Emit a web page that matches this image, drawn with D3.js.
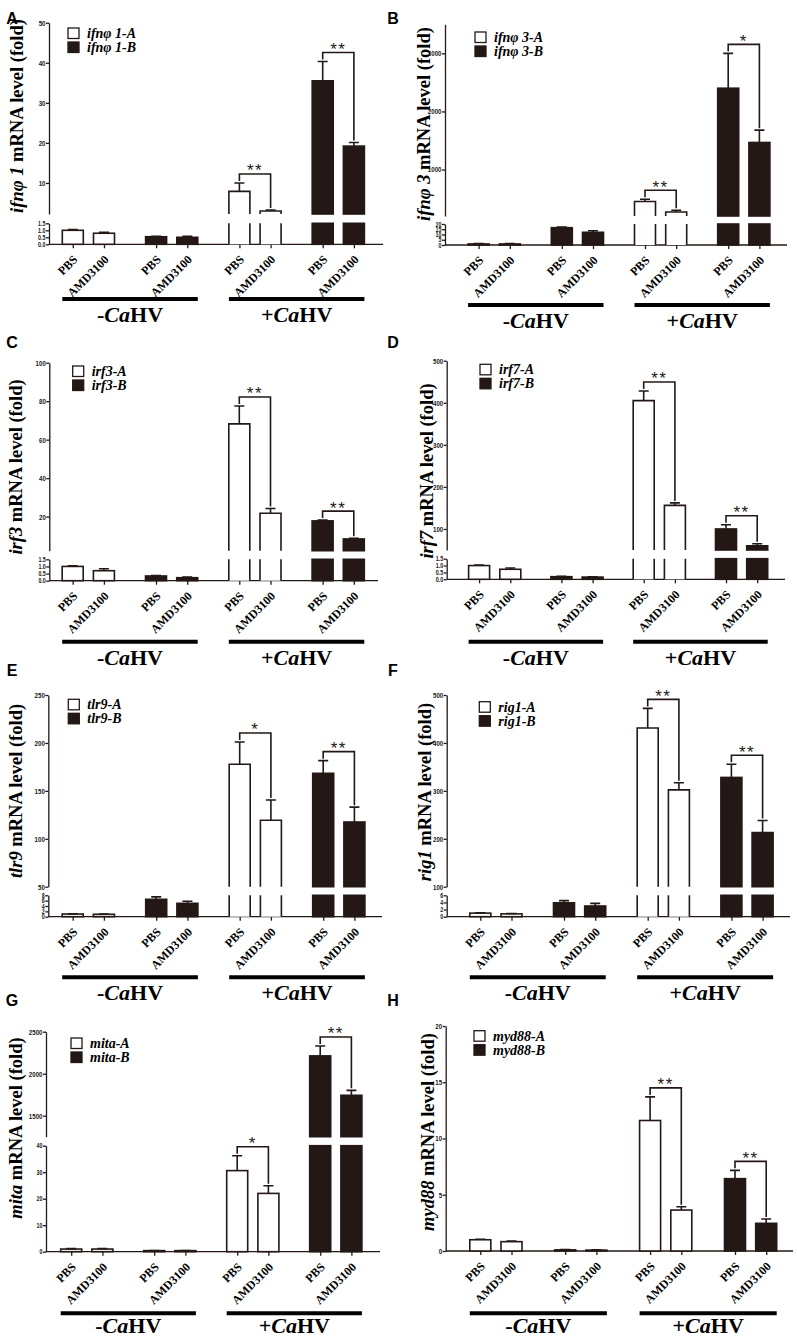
<!DOCTYPE html>
<html>
<head>
<meta charset="utf-8">
<script src="https://cdn.jsdelivr.net/npm/d3@7"></script>
<style>
  body { margin: 0; background: #fff; }
  .axis path, .axis line { stroke: #231815; stroke-width: 1.3; }
</style>
</head>
<body>
<svg width="797" height="1339"></svg>
<script>
// bar order: -CaHV gene A (PBS, AMD3100), -CaHV gene B, +CaHV gene A, +CaHV gene B
var treatments = ["PBS", "AMD3100"];
var groupKeys  = ["negA", "negB", "posA", "posB"];
var infections = ["-", "+"];

// A  ifnφ 1
var ifn1Mean = [1.0, 0.79, 0.54, 0.50, 7.9, 3.0, 35.5, 19.2];
var ifn1Err  = [0.05, 0.06, 0.03, 0.07, 2.1, 0.25, 4.8, 0.9];
var ifn1Sig  = ["**", "**"];
var ifn1Upper = [2.25, 50], ifn1UpperTicks = [10, 20, 30, 40, 50];
var ifn1LowerTicks = [0, 0.5, 1, 1.5];

// B  ifnφ 3
var ifn3Mean = [1.0, 1.0, 16.5, 12.1, 450, 269, 2400, 1466];
var ifn3Err  = [0.3, 0.5, 0.6, 1.5, 38, 29, 600, 212];
var ifn3Sig  = ["**", "*"];
var ifn3Upper = [200, 3500], ifn3UpperTicks = [1000, 2000, 3000];
var ifn3LowerTicks = [0, 5, 10, 15, 20];

// C  irf3
var irf3Mean = [1.0, 0.7, 0.33, 0.21, 68.2, 21.8, 17.8, 8.4];
var irf3Err  = [0.05, 0.14, 0.03, 0.04, 9.3, 2.4, 0.4, 0.4];
var irf3Sig  = ["**", "**"];
var irf3Upper = [2.3, 100], irf3UpperTicks = [20, 40, 60, 80, 100];
var irf3LowerTicks = [0, 0.5, 1, 1.5];

// D  irf7
var irf7Mean = [1.0, 0.73, 0.19, 0.16, 405, 156, 100, 60];
var irf7Err  = [0.03, 0.09, 0.03, 0.03, 23, 6, 10, 5];
var irf7Sig  = ["**", "**"];
var irf7Upper = [50, 500], irf7UpperTicks = [100, 200, 300, 400, 500];
var irf7LowerTicks = [0, 0.5, 1, 1.5];

// E  tlr9
var tlr9Mean = [1.0, 0.9, 6.5, 5.0, 177.7, 119.3, 168.3, 117.5];
var tlr9Err  = [0.1, 0.1, 0.9, 0.75, 23.3, 21.2, 13.2, 15.5];
var tlr9Sig  = ["*", "**"];
var tlr9Upper = [50, 250], tlr9UpperTicks = [50, 100, 150, 200, 250];
var tlr9LowerTicks = [0, 2, 4, 6, 8];

// F  rig1
var rig1Mean = [1.0, 0.8, 3.9, 3.0, 431, 302, 328, 213];
var rig1Err  = [0.1, 0.1, 0.6, 0.75, 41, 15, 27.5, 25];
var rig1Sig  = ["**", "**"];
var rig1Upper = [100, 500], rig1UpperTicks = [100, 200, 300, 400, 500];
var rig1LowerTicks = [0, 2, 4, 6];

// G  mita
var mitaMean = [1.0, 1.0, 0.4, 0.4, 30.6, 22.0, 2212, 1743];
var mitaErr  = [0.15, 0.2, 0.05, 0.05, 5.6, 2.9, 118, 59];
var mitaSig  = ["*", "**"];
var mitaUpper = [1250, 2500], mitaUpperTicks = [1500, 2000, 2500];
var mitaLowerTicks = [0, 10, 20, 30, 40];

// H  myd88 (no axis break)
var myd88Mean = [1.0, 0.83, 0.1, 0.08, 11.6, 3.64, 6.43, 2.46];
var myd88Err  = [0.05, 0.05, 0.02, 0.02, 2.1, 0.3, 0.74, 0.38];
var myd88Sig  = ["**", "**"];
var myd88Upper = [0, 20], myd88UpperTicks = [0, 5, 10, 15, 20];

var panels = [
  {letter: "A", gene: "ifnφ 1", mean: ifn1Mean, err: ifn1Err, sig: ifn1Sig, upper: ifn1Upper, upperTicks: ifn1UpperTicks, lowerTicks: ifn1LowerTicks, fmt: ".1f"},
  {letter: "B", gene: "ifnφ 3", mean: ifn3Mean, err: ifn3Err, sig: ifn3Sig, upper: ifn3Upper, upperTicks: ifn3UpperTicks, lowerTicks: ifn3LowerTicks, fmt: "d"},
  {letter: "C", gene: "irf3", mean: irf3Mean, err: irf3Err, sig: irf3Sig, upper: irf3Upper, upperTicks: irf3UpperTicks, lowerTicks: irf3LowerTicks, fmt: ".1f"},
  {letter: "D", gene: "irf7", mean: irf7Mean, err: irf7Err, sig: irf7Sig, upper: irf7Upper, upperTicks: irf7UpperTicks, lowerTicks: irf7LowerTicks, fmt: ".1f"},
  {letter: "E", gene: "tlr9", mean: tlr9Mean, err: tlr9Err, sig: tlr9Sig, upper: tlr9Upper, upperTicks: tlr9UpperTicks, lowerTicks: tlr9LowerTicks, fmt: "d"},
  {letter: "F", gene: "rig1", mean: rig1Mean, err: rig1Err, sig: rig1Sig, upper: rig1Upper, upperTicks: rig1UpperTicks, lowerTicks: rig1LowerTicks, fmt: "d"},
  {letter: "G", gene: "mita", mean: mitaMean, err: mitaErr, sig: mitaSig, upper: mitaUpper, upperTicks: mitaUpperTicks, lowerTicks: mitaLowerTicks, fmt: "d"},
  {letter: "H", gene: "myd88", mean: myd88Mean, err: myd88Err, sig: myd88Sig, upper: myd88Upper, upperTicks: myd88UpperTicks, lowerTicks: null, fmt: "d"}
];

// pixel layout of each panel
var layouts = [
  {ox: 49,    xEnd: 383, first: 39.4, step: 83.3, yTop: 22.7,   yUB: 214,    yLT: 223.3,  y0: 244.3,  bar: 299,    lab: 23, tx: 23,  ty: 116,  lx: 68,    ly: 28,    kx: 12,  ky: 24},
  {ox: 445,   xEnd: 787, first: 49.2, step: 83.2, yTop: 24.3,   yUB: 216,    yLT: 224,    y0: 245,    bar: 305,    lab: 23, tx: 430, ty: 124,  lx: 475,   ly: 32,    kx: 393, ky: 24},
  {ox: 49.3,  xEnd: 378, first: 39,   step: 83.3, yTop: 362.7,  yUB: 550.7,  yLT: 559.3,  y0: 580.7,  bar: 641.7,  lab: 23, tx: 22,  ty: 467,  lx: 72.7,  ly: 366,   kx: 12,  ky: 348},
  {ox: 446.7, xEnd: 785, first: 48,   step: 82.3, yTop: 360.7,  yUB: 550,    yLT: 558.7,  y0: 579.3,  bar: 641.7,  lab: 23, tx: 433, ty: 471,  lx: 480,   ly: 364.3, kx: 393, ky: 348},
  {ox: 48.3,  xEnd: 382, first: 40,   step: 83.5, yTop: 695,    yUB: 886.7,  yLT: 895.3,  y0: 916.7,  bar: 977.3,  lab: 23, tx: 22,  ty: 791,  lx: 68.3,  ly: 699.3, kx: 12,  ky: 676},
  {ox: 446.7, xEnd: 790, first: 49.2, step: 83.7, yTop: 695,    yUB: 886.7,  yLT: 895.3,  y0: 916.7,  bar: 977.3,  lab: 23, tx: 431, ty: 792,  lx: 479.3, ly: 701.7, kx: 393, ky: 676},
  {ox: 46,    xEnd: 380, first: 40.8, step: 83,   yTop: 1031.7, yUB: 1136.7, yLT: 1145.7, y0: 1251.7, bar: 1313.3, lab: 20, tx: 22,  ty: 1128, lx: 71,    ly: 1038,  kx: 12,  ky: 1006},
  {ox: 445.7, xEnd: 793, first: 50.2, step: 84.9, yTop: 1026,   yUB: null,   yLT: null,   y0: 1251,   bar: 1313.3, lab: 20, tx: 434, ty: 1132, lx: 474,   ly: 1030.7, kx: 393, ky: 1006}
];

var dark = "#231815";
var SERIF = "'Liberation Serif', 'Times New Roman', Times, serif";
var SANS = "'Liberation Sans', Arial, Helvetica, sans-serif";
var svg = d3.select("svg");

function styleTicks(sel, size) {
  sel.selectAll("text")
    .style("font-family", SANS).style("font-weight", "bold").style("font-size", size + "px")
    .attr("fill", dark).attr("x", -3.5 / 0.82)
    .attr("transform", "scale(0.82,1)");
}

function drawPanel(p, L) {
  var g = svg.append("g");
  var hasBreak = p.lowerTicks != null;
  var lowerMax = hasBreak ? d3.max(p.lowerTicks) : null;

  var yLow = hasBreak
    ? d3.scaleLinear().domain([0, lowerMax]).range([L.y0, L.yLT])
    : d3.scaleLinear().domain(p.upper).range([L.y0, L.yTop]);
  var yUp = hasBreak ? d3.scaleLinear().domain(p.upper).range([L.yUB, L.yTop]) : null;
  function yv(v) { return (!hasBreak || v <= lowerMax) ? yLow(v) : yUp(v); }

  var xGroup = d3.scaleBand().domain(groupKeys)
      .range([L.ox + L.first - L.step / 2, L.ox + L.first + L.step * 3.5]);
  var xSub = d3.scalePoint().domain(treatments).range([-15.6, 15.6]);
  var bw = 21;

  var bars = p.mean.map(function(m, i) {
    var k = Math.floor(i / 2);
    return {i: i, mean: m, err: p.err[i], filled: k % 2 == 1,
            x: xGroup(groupKeys[k]) + xGroup.bandwidth() / 2 + xSub(treatments[i % 2])};
  });

  // y axis (one or two segments)
  if (hasBreak) {
    g.append("g").attr("class", "axis")
      .attr("transform", "translate(" + L.ox + ",0)")
      .call(d3.axisLeft(yUp).tickValues(p.upperTicks).tickSize(3).tickSizeOuter(0).tickFormat(d3.format("d")))
      .call(styleTicks, 7.5);
    g.append("g").attr("class", "axis")
      .attr("transform", "translate(" + L.ox + ",0)")
      .call(d3.axisLeft(yLow).tickValues(p.lowerTicks).tickSize(3).tickSizeOuter(0).tickFormat(d3.format(p.fmt)))
      .call(styleTicks, 6.5);
  } else {
    g.append("g").attr("class", "axis")
      .attr("transform", "translate(" + L.ox + ",0)")
      .call(d3.axisLeft(yLow).tickValues(p.upperTicks).tickSize(3).tickSizeOuter(0).tickFormat(d3.format("d")))
      .call(styleTicks, 7.5);
  }

  // x axis with rotated treatment labels
  var xBar = d3.scaleOrdinal().domain(d3.range(8)).range(bars.map(function(b) { return b.x; }));
  var xa = g.append("g").attr("class", "axis")
    .attr("transform", "translate(0," + L.y0 + ")")
    .call(d3.axisBottom(xBar).tickSize(4).tickFormat(function(i) { return treatments[i % 2]; }));
  xa.select(".domain").remove();
  xa.append("line").attr("x1", L.ox).attr("x2", L.xEnd).attr("y1", 0).attr("y2", 0)
    .attr("stroke", dark).attr("stroke-width", 1.3);
  xa.selectAll(".tick text")
    .style("font-family", SERIF).style("font-weight", "bold").style("font-size", "12px")
    .attr("fill", "#000").attr("text-anchor", "end").attr("y", 0).attr("dy", 0)
    .attr("transform", "translate(5,16) rotate(-45)");

  // bars
  bars.forEach(function(b) {
    var x0 = b.x - bw / 2, fill = b.filled ? dark : "#fff";
    if (!hasBreak || b.mean <= lowerMax) {
      g.append("rect").attr("x", x0).attr("width", bw)
        .attr("y", yLow(b.mean)).attr("height", L.y0 - yLow(b.mean))
        .attr("fill", fill).attr("stroke", dark).attr("stroke-width", 1.6);
    } else {
      var segs = [[L.y0, L.yLT, false], [L.yUB, yUp(b.mean), true]];
      segs.forEach(function(s) {
        g.append("rect").attr("x", x0).attr("width", bw).attr("y", s[1]).attr("height", s[0] - s[1])
          .attr("fill", fill).attr("stroke", b.filled ? dark : "none").attr("stroke-width", 1.6);
        if (!b.filled) {
          var d = "M" + x0 + "," + s[0] + "V" + s[1] + (s[2] ? "H" + (x0 + bw) : "M" + (x0 + bw) + "," + s[1]) + "V" + s[0];
          g.append("path").attr("d", d).attr("fill", "none").attr("stroke", dark).attr("stroke-width", 1.6);
        }
      });
    }
    // error bar
    var yt = yv(b.mean + b.err);
    g.append("path")
      .attr("d", "M" + b.x + "," + yv(b.mean) + "V" + yt + "M" + (b.x - 5) + "," + yt + "H" + (b.x + 5))
      .attr("fill", "none").attr("stroke", dark).attr("stroke-width", 1.6);
  });

  // significance brackets for +CaHV pairs
  p.sig.forEach(function(s, j) {
    var a = bars[4 + j * 2], c = bars[5 + j * 2];
    var ya = yv(a.mean + a.err), yc = yv(c.mean + c.err);
    var yb = Math.min(ya, yc) - 9;
    g.append("path")
      .attr("d", "M" + a.x + "," + (ya - 2) + "V" + yb + "H" + c.x + "V" + (yc - 2))
      .attr("fill", "none").attr("stroke", dark).attr("stroke-width", 1.6);
    g.append("text")
      .attr("x", (a.x + c.x) / 2).attr("y", yb + 2.5)
      .attr("text-anchor", "middle")
      .style("font-family", SANS).style("font-size", "17px").style("letter-spacing", "1.5px")
      .attr("fill", dark).text(s);
  });

  // infection group bars and labels
  infections.forEach(function(inf, j) {
    var xl = bars[j * 4].x - bw / 2, xr = bars[j * 4 + 3].x + bw / 2;
    g.append("line").attr("x1", xl).attr("x2", xr).attr("y1", L.bar).attr("y2", L.bar)
      .attr("stroke", "#000").attr("stroke-width", 4);
    var t = g.append("text").attr("x", (xl + xr) / 2).attr("y", L.bar + L.lab)
      .attr("text-anchor", "middle")
      .style("font-family", SERIF).style("font-weight", "bold").style("font-size", "22px");
    t.append("tspan").text(inf);
    t.append("tspan").style("font-style", "italic").text("Ca");
    t.append("tspan").text("HV");
  });

  // y title
  var yt = g.append("text")
    .attr("transform", "translate(" + L.tx + "," + L.ty + ") rotate(-90)")
    .attr("text-anchor", "middle")
    .style("font-family", SERIF).style("font-weight", "bold").style("font-size", "18.5px");
  yt.append("tspan").style("font-style", "italic").text(p.gene);
  yt.append("tspan").text(" mRNA level (fold)");

  // legend
  ["A", "B"].forEach(function(v, j) {
    g.append("rect").attr("x", L.lx).attr("y", L.ly + j * 14).attr("width", 11).attr("height", 10.5)
      .attr("fill", j ? dark : "#fff").attr("stroke", dark).attr("stroke-width", 1.3);
    g.append("text").attr("x", L.lx + 19).attr("y", L.ly + j * 14 + 10)
      .style("font-family", SERIF).style("font-weight", "bold").style("font-style", "italic")
      .style("font-size", "14px").text(p.gene + "-" + v);
  });

  // panel letter
  g.append("text").attr("x", L.kx).attr("y", L.ky)
    .attr("text-anchor", "middle")
    .style("font-family", SANS).style("font-weight", "bold").style("font-size", "16px")
    .text(p.letter);
}

panels.forEach(function(p, i) { drawPanel(p, layouts[i]); });
</script>
</body>
</html>
